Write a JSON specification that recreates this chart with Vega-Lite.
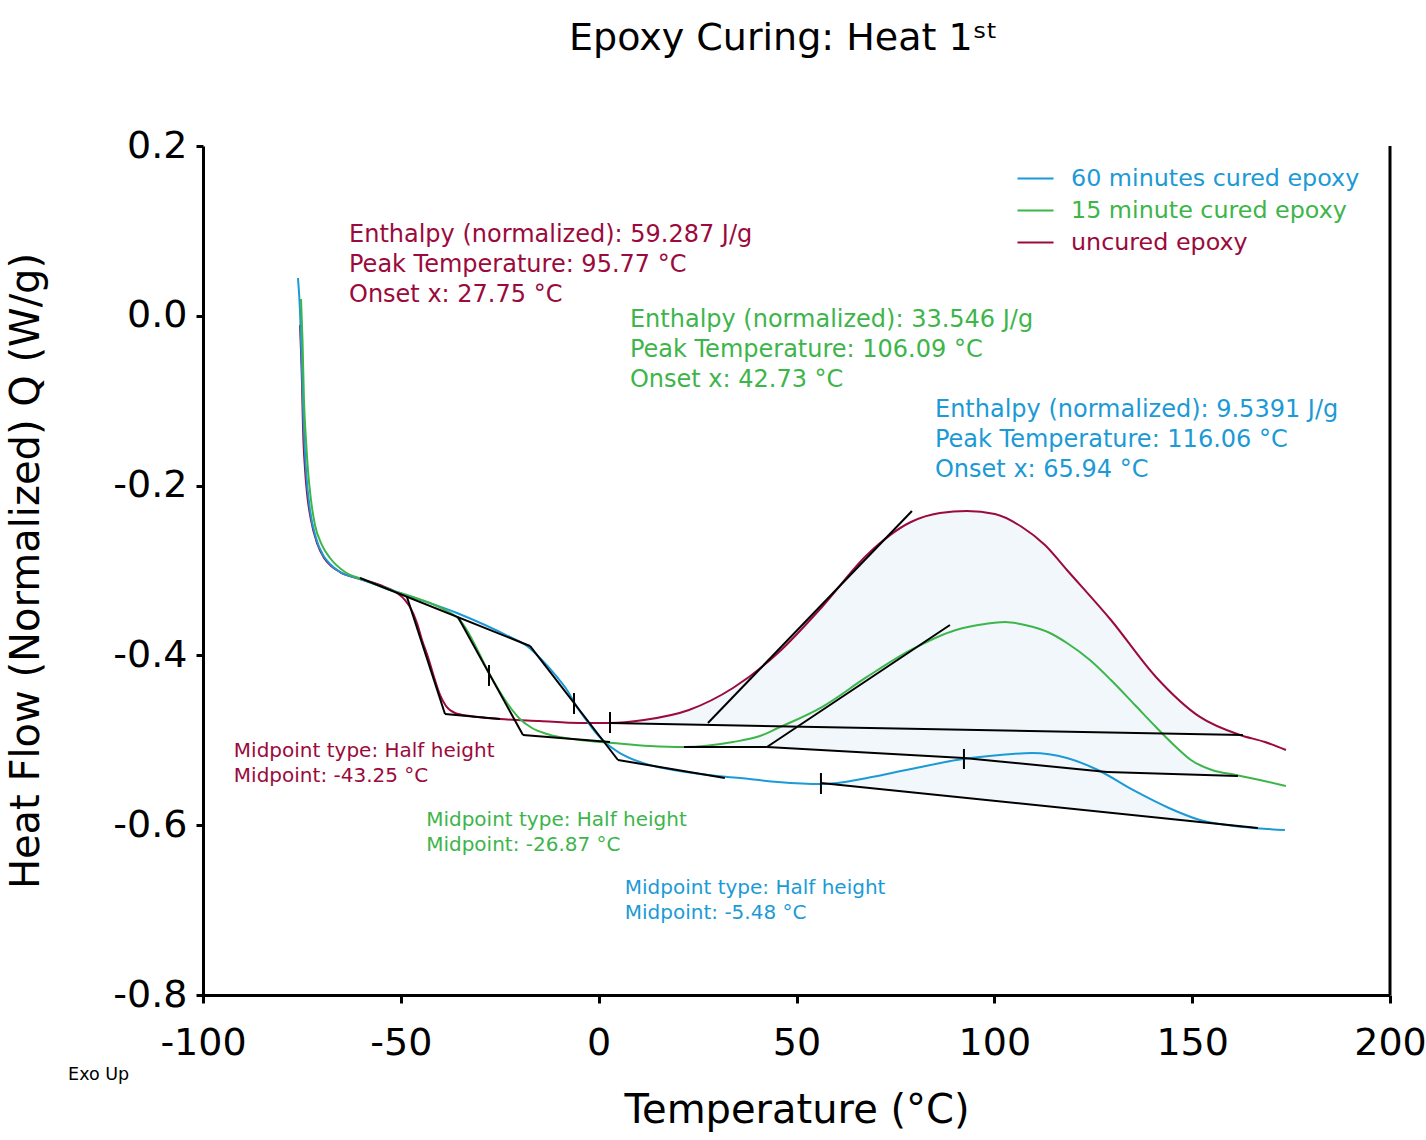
{
  "$schema": "https://vega.github.io/schema/vega-lite/v6.json",
  "description": "Epoxy curing DSC heat flow curves, first heat",
  "width": 1187,
  "height": 849,
  "autosize": "none",
  "padding": {"left": 203, "top": 146, "right": 36, "bottom": 145},
  "background": "white",
  "config": {
    "font": "DejaVu Sans",
    "view": {"stroke": null},
    "axis": {
      "grid": false,
      "domainColor": "black",
      "domainWidth": 3,
      "tickColor": "black",
      "tickWidth": 3,
      "labelColor": "black",
      "titleColor": "black",
      "labelFontSize": 38,
      "titleFontSize": 40,
      "titleFontWeight": "normal",
      "labelOverlap": false,
      "labelFlush": false
    }
  },
  "title": {
    "text": "Epoxy Curing: Heat 1ˢᵗ",
    "fontSize": 38,
    "fontWeight": "normal",
    "color": "black",
    "baseline": "alphabetic",
    "offset": 39,
    "dx": -13
  },
  "datasets": {
    "curves": [
      {"s": "uncured epoxy", "T": -75.49, "V": -0.0108},
      {"s": "uncured epoxy", "T": -75.0, "V": -0.0756},
      {"s": "uncured epoxy", "T": -74.73, "V": -0.131},
      {"s": "uncured epoxy", "T": -74.2, "V": -0.1816},
      {"s": "uncured epoxy", "T": -73.72, "V": -0.2087},
      {"s": "uncured epoxy", "T": -72.7, "V": -0.2405},
      {"s": "uncured epoxy", "T": -71.19, "V": -0.2676},
      {"s": "uncured epoxy", "T": -69.4, "V": -0.2853},
      {"s": "uncured epoxy", "T": -67.9, "V": -0.2935},
      {"s": "uncured epoxy", "T": -65.38, "V": -0.3018},
      {"s": "uncured epoxy", "T": -60.32, "V": -0.31},
      {"s": "uncured epoxy", "T": -55.27, "V": -0.3171},
      {"s": "uncured epoxy", "T": -50.97, "V": -0.3265},
      {"s": "uncured epoxy", "T": -48.95, "V": -0.3348},
      {"s": "uncured epoxy", "T": -47.69, "V": -0.343},
      {"s": "uncured epoxy", "T": -45.92, "V": -0.3618},
      {"s": "uncured epoxy", "T": -44.65, "V": -0.3819},
      {"s": "uncured epoxy", "T": -43.14, "V": -0.4019},
      {"s": "uncured epoxy", "T": -41.62, "V": -0.4254},
      {"s": "uncured epoxy", "T": -40.1, "V": -0.4466},
      {"s": "uncured epoxy", "T": -38.59, "V": -0.4596},
      {"s": "uncured epoxy", "T": -36.31, "V": -0.4678},
      {"s": "uncured epoxy", "T": -32.52, "V": -0.4714},
      {"s": "uncured epoxy", "T": -24.94, "V": -0.4749},
      {"s": "uncured epoxy", "T": -14.83, "V": -0.4773},
      {"s": "uncured epoxy", "T": -4.72, "V": -0.4796},
      {"s": "uncured epoxy", "T": 2.86, "V": -0.4796},
      {"s": "uncured epoxy", "T": 11.45, "V": -0.4761},
      {"s": "uncured epoxy", "T": 22.82, "V": -0.4643},
      {"s": "uncured epoxy", "T": 33.94, "V": -0.4384},
      {"s": "uncured epoxy", "T": 45.31, "V": -0.3972},
      {"s": "uncured epoxy", "T": 56.43, "V": -0.343},
      {"s": "uncured epoxy", "T": 67.8, "V": -0.2817},
      {"s": "uncured epoxy", "T": 78.92, "V": -0.2429},
      {"s": "uncured epoxy", "T": 86.25, "V": -0.2323},
      {"s": "uncured epoxy", "T": 93.07, "V": -0.2299},
      {"s": "uncured epoxy", "T": 100.15, "V": -0.2335},
      {"s": "uncured epoxy", "T": 106.98, "V": -0.2488},
      {"s": "uncured epoxy", "T": 112.79, "V": -0.27},
      {"s": "uncured epoxy", "T": 118.35, "V": -0.2994},
      {"s": "uncured epoxy", "T": 129.47, "V": -0.3583},
      {"s": "uncured epoxy", "T": 140.84, "V": -0.4254},
      {"s": "uncured epoxy", "T": 151.96, "V": -0.4725},
      {"s": "uncured epoxy", "T": 162.07, "V": -0.4937},
      {"s": "uncured epoxy", "T": 168.4, "V": -0.502},
      {"s": "uncured epoxy", "T": 173.7, "V": -0.5114},

      {"s": "60 minutes cured epoxy", "T": -75.99, "V": 0.0445},
      {"s": "60 minutes cured epoxy", "T": -75.49, "V": 0.0068},
      {"s": "60 minutes cured epoxy", "T": -74.98, "V": -0.0638},
      {"s": "60 minutes cured epoxy", "T": -74.6, "V": -0.1227},
      {"s": "60 minutes cured epoxy", "T": -73.97, "V": -0.1816},
      {"s": "60 minutes cured epoxy", "T": -72.96, "V": -0.2287},
      {"s": "60 minutes cured epoxy", "T": -71.44, "V": -0.2617},
      {"s": "60 minutes cured epoxy", "T": -69.67, "V": -0.2817},
      {"s": "60 minutes cured epoxy", "T": -67.9, "V": -0.2923},
      {"s": "60 minutes cured epoxy", "T": -65.38, "V": -0.3018},
      {"s": "60 minutes cured epoxy", "T": -60.32, "V": -0.31},
      {"s": "60 minutes cured epoxy", "T": -50.97, "V": -0.3253},
      {"s": "60 minutes cured epoxy", "T": -35.81, "V": -0.35},
      {"s": "60 minutes cured epoxy", "T": -22.42, "V": -0.3783},
      {"s": "60 minutes cured epoxy", "T": -18.12, "V": -0.3889},
      {"s": "60 minutes cured epoxy", "T": -14.83, "V": -0.403},
      {"s": "60 minutes cured epoxy", "T": -10.54, "V": -0.4254},
      {"s": "60 minutes cured epoxy", "T": -8.01, "V": -0.4407},
      {"s": "60 minutes cured epoxy", "T": -5.48, "V": -0.4608},
      {"s": "60 minutes cured epoxy", "T": -2.96, "V": -0.4772},
      {"s": "60 minutes cured epoxy", "T": -0.43, "V": -0.4926},
      {"s": "60 minutes cured epoxy", "T": 2.1, "V": -0.5044},
      {"s": "60 minutes cured epoxy", "T": 5.38, "V": -0.515},
      {"s": "60 minutes cured epoxy", "T": 10.44, "V": -0.5256},
      {"s": "60 minutes cured epoxy", "T": 16.25, "V": -0.5327},
      {"s": "60 minutes cured epoxy", "T": 25.6, "V": -0.5397},
      {"s": "60 minutes cured epoxy", "T": 35.71, "V": -0.5444},
      {"s": "60 minutes cured epoxy", "T": 45.31, "V": -0.5491},
      {"s": "60 minutes cured epoxy", "T": 56.18, "V": -0.5515},
      {"s": "60 minutes cured epoxy", "T": 62.24, "V": -0.549},
      {"s": "60 minutes cured epoxy", "T": 67.8, "V": -0.5444},
      {"s": "60 minutes cured epoxy", "T": 78.92, "V": -0.5338},
      {"s": "60 minutes cured epoxy", "T": 92.07, "V": -0.522},
      {"s": "60 minutes cured epoxy", "T": 101.42, "V": -0.5173},
      {"s": "60 minutes cured epoxy", "T": 109.5, "V": -0.5149},
      {"s": "60 minutes cured epoxy", "T": 118.35, "V": -0.5208},
      {"s": "60 minutes cured epoxy", "T": 126.18, "V": -0.535},
      {"s": "60 minutes cured epoxy", "T": 135.03, "V": -0.5585},
      {"s": "60 minutes cured epoxy", "T": 144.12, "V": -0.5797},
      {"s": "60 minutes cured epoxy", "T": 151.96, "V": -0.5939},
      {"s": "60 minutes cured epoxy", "T": 163.08, "V": -0.6021},
      {"s": "60 minutes cured epoxy", "T": 173.44, "V": -0.6057},

      {"s": "15 minute cured epoxy", "T": -75.23, "V": 0.0198},
      {"s": "15 minute cured epoxy", "T": -74.85, "V": -0.0285},
      {"s": "15 minute cured epoxy", "T": -74.48, "V": -0.0992},
      {"s": "15 minute cured epoxy", "T": -73.97, "V": -0.1463},
      {"s": "15 minute cured epoxy", "T": -73.47, "V": -0.1816},
      {"s": "15 minute cured epoxy", "T": -72.71, "V": -0.2169},
      {"s": "15 minute cured epoxy", "T": -71.7, "V": -0.2464},
      {"s": "15 minute cured epoxy", "T": -69.93, "V": -0.27},
      {"s": "15 minute cured epoxy", "T": -67.9, "V": -0.2853},
      {"s": "15 minute cured epoxy", "T": -64.11, "V": -0.3018},
      {"s": "15 minute cured epoxy", "T": -59.06, "V": -0.3112},
      {"s": "15 minute cured epoxy", "T": -52.74, "V": -0.323},
      {"s": "15 minute cured epoxy", "T": -47.69, "V": -0.33},
      {"s": "15 minute cured epoxy", "T": -42.63, "V": -0.3383},
      {"s": "15 minute cured epoxy", "T": -38.33, "V": -0.3477},
      {"s": "15 minute cured epoxy", "T": -35.56, "V": -0.356},
      {"s": "15 minute cured epoxy", "T": -33.03, "V": -0.3724},
      {"s": "15 minute cured epoxy", "T": -30.5, "V": -0.3948},
      {"s": "15 minute cured epoxy", "T": -27.72, "V": -0.4207},
      {"s": "15 minute cured epoxy", "T": -24.94, "V": -0.4431},
      {"s": "15 minute cured epoxy", "T": -22.42, "V": -0.4608},
      {"s": "15 minute cured epoxy", "T": -19.89, "V": -0.4749},
      {"s": "15 minute cured epoxy", "T": -16.86, "V": -0.4855},
      {"s": "15 minute cured epoxy", "T": -13.07, "V": -0.4926},
      {"s": "15 minute cured epoxy", "T": -4.72, "V": -0.4996},
      {"s": "15 minute cured epoxy", "T": 3.62, "V": -0.5032},
      {"s": "15 minute cured epoxy", "T": 12.97, "V": -0.5067},
      {"s": "15 minute cured epoxy", "T": 21.56, "V": -0.5079},
      {"s": "15 minute cured epoxy", "T": 33.94, "V": -0.502},
      {"s": "15 minute cured epoxy", "T": 40.76, "V": -0.495},
      {"s": "15 minute cured epoxy", "T": 45.31, "V": -0.4855},
      {"s": "15 minute cured epoxy", "T": 56.43, "V": -0.4608},
      {"s": "15 minute cured epoxy", "T": 67.8, "V": -0.4254},
      {"s": "15 minute cured epoxy", "T": 78.92, "V": -0.3936},
      {"s": "15 minute cured epoxy", "T": 90.3, "V": -0.37},
      {"s": "15 minute cured epoxy", "T": 97.63, "V": -0.363},
      {"s": "15 minute cured epoxy", "T": 102.68, "V": -0.3607},
      {"s": "15 minute cured epoxy", "T": 107.73, "V": -0.3642},
      {"s": "15 minute cured epoxy", "T": 114.05, "V": -0.3736},
      {"s": "15 minute cured epoxy", "T": 118.35, "V": -0.3854},
      {"s": "15 minute cured epoxy", "T": 124.16, "V": -0.4054},
      {"s": "15 minute cured epoxy", "T": 129.47, "V": -0.429},
      {"s": "15 minute cured epoxy", "T": 135.53, "V": -0.4584},
      {"s": "15 minute cured epoxy", "T": 140.84, "V": -0.4843},
      {"s": "15 minute cured epoxy", "T": 145.64, "V": -0.5067},
      {"s": "15 minute cured epoxy", "T": 149.68, "V": -0.5232},
      {"s": "15 minute cured epoxy", "T": 155.0, "V": -0.535},
      {"s": "15 minute cured epoxy", "T": 161.06, "V": -0.5409},
      {"s": "15 minute cured epoxy", "T": 167.12, "V": -0.5468},
      {"s": "15 minute cured epoxy", "T": 173.69, "V": -0.5538}
    ],
    "fills": [
      {"s": "uncured epoxy", "T": 2.86, "V": -0.4796, "V2": -0.4796},
      {"s": "uncured epoxy", "T": 11.45, "V": -0.4761, "V2": -0.4804},
      {"s": "uncured epoxy", "T": 22.82, "V": -0.4643, "V2": -0.4814},
      {"s": "uncured epoxy", "T": 33.94, "V": -0.4384, "V2": -0.4824},
      {"s": "uncured epoxy", "T": 45.31, "V": -0.3972, "V2": -0.4834},
      {"s": "uncured epoxy", "T": 56.43, "V": -0.343, "V2": -0.4844},
      {"s": "uncured epoxy", "T": 67.8, "V": -0.2817, "V2": -0.4854},
      {"s": "uncured epoxy", "T": 78.92, "V": -0.2429, "V2": -0.4864},
      {"s": "uncured epoxy", "T": 86.25, "V": -0.2323, "V2": -0.487},
      {"s": "uncured epoxy", "T": 93.07, "V": -0.2299, "V2": -0.4876},
      {"s": "uncured epoxy", "T": 100.15, "V": -0.2335, "V2": -0.4882},
      {"s": "uncured epoxy", "T": 106.98, "V": -0.2488, "V2": -0.4888},
      {"s": "uncured epoxy", "T": 112.79, "V": -0.27, "V2": -0.4893},
      {"s": "uncured epoxy", "T": 118.35, "V": -0.2994, "V2": -0.4898},
      {"s": "uncured epoxy", "T": 129.47, "V": -0.3583, "V2": -0.4908},
      {"s": "uncured epoxy", "T": 140.84, "V": -0.4254, "V2": -0.4918},
      {"s": "uncured epoxy", "T": 151.96, "V": -0.4725, "V2": -0.4928},
      {"s": "uncured epoxy", "T": 162.07, "V": -0.4937, "V2": -0.4937},

      {"s": "15 minute cured epoxy", "T": 21.56, "V": -0.5079, "V2": -0.5079},
      {"s": "15 minute cured epoxy", "T": 33.94, "V": -0.502, "V2": -0.5079},
      {"s": "15 minute cured epoxy", "T": 40.76, "V": -0.495, "V2": -0.5079},
      {"s": "15 minute cured epoxy", "T": 45.31, "V": -0.4855, "V2": -0.5086},
      {"s": "15 minute cured epoxy", "T": 56.43, "V": -0.4608, "V2": -0.5115},
      {"s": "15 minute cured epoxy", "T": 67.8, "V": -0.4254, "V2": -0.5145},
      {"s": "15 minute cured epoxy", "T": 78.92, "V": -0.3936, "V2": -0.5173},
      {"s": "15 minute cured epoxy", "T": 90.3, "V": -0.37, "V2": -0.5203},
      {"s": "15 minute cured epoxy", "T": 97.63, "V": -0.363, "V2": -0.5232},
      {"s": "15 minute cured epoxy", "T": 102.68, "V": -0.3607, "V2": -0.5255},
      {"s": "15 minute cured epoxy", "T": 107.73, "V": -0.3642, "V2": -0.5278},
      {"s": "15 minute cured epoxy", "T": 114.05, "V": -0.3736, "V2": -0.5307},
      {"s": "15 minute cured epoxy", "T": 118.35, "V": -0.3854, "V2": -0.5327},
      {"s": "15 minute cured epoxy", "T": 124.16, "V": -0.4054, "V2": -0.5353},
      {"s": "15 minute cured epoxy", "T": 129.47, "V": -0.429, "V2": -0.5374},
      {"s": "15 minute cured epoxy", "T": 135.53, "V": -0.4584, "V2": -0.5383},
      {"s": "15 minute cured epoxy", "T": 140.84, "V": -0.4843, "V2": -0.5391},
      {"s": "15 minute cured epoxy", "T": 145.64, "V": -0.5067, "V2": -0.5398},
      {"s": "15 minute cured epoxy", "T": 149.68, "V": -0.5232, "V2": -0.5403},
      {"s": "15 minute cured epoxy", "T": 155.0, "V": -0.535, "V2": -0.5411},
      {"s": "15 minute cured epoxy", "T": 161.06, "V": -0.5412, "V2": -0.5418},

      {"s": "60 minutes cured epoxy", "T": 56.18, "V": -0.5509, "V2": -0.5509},
      {"s": "60 minutes cured epoxy", "T": 62.24, "V": -0.549, "V2": -0.5532},
      {"s": "60 minutes cured epoxy", "T": 67.8, "V": -0.5444, "V2": -0.5559},
      {"s": "60 minutes cured epoxy", "T": 78.92, "V": -0.5338, "V2": -0.5612},
      {"s": "60 minutes cured epoxy", "T": 92.07, "V": -0.522, "V2": -0.5675},
      {"s": "60 minutes cured epoxy", "T": 101.42, "V": -0.5173, "V2": -0.572},
      {"s": "60 minutes cured epoxy", "T": 109.5, "V": -0.5149, "V2": -0.5759},
      {"s": "60 minutes cured epoxy", "T": 118.35, "V": -0.5208, "V2": -0.5801},
      {"s": "60 minutes cured epoxy", "T": 126.18, "V": -0.535, "V2": -0.5839},
      {"s": "60 minutes cured epoxy", "T": 135.03, "V": -0.5585, "V2": -0.5881},
      {"s": "60 minutes cured epoxy", "T": 144.12, "V": -0.5797, "V2": -0.5925},
      {"s": "60 minutes cured epoxy", "T": 151.96, "V": -0.5939, "V2": -0.5963},
      {"s": "60 minutes cured epoxy", "T": 163.08, "V": -0.6018, "V2": -0.6018}
    ],
    "segs": [
      {"T": -60.32, "V": -0.3088, "T2": -17.36, "V2": -0.3889},
      {"T": -17.36, "V": -0.3889, "T2": 4.88, "V2": -0.5232},
      {"T": 4.88, "V": -0.5232, "T2": 31.9, "V2": -0.5444},
      {"T": -48.45, "V": -0.3312, "T2": -38.84, "V2": -0.469},
      {"T": -38.84, "V": -0.469, "T2": -24.94, "V2": -0.4749},
      {"T": -35.56, "V": -0.3548, "T2": -19.13, "V2": -0.4938},
      {"T": -19.13, "V": -0.4938, "T2": 2.86, "V2": -0.502},
      {"T": 2.86, "V": -0.4796, "T2": 162.83, "V2": -0.4938},
      {"T": 27.62, "V": -0.4796, "T2": 79.18, "V2": -0.2299},
      {"T": 21.56, "V": -0.5079, "T2": 42.53, "V2": -0.5079},
      {"T": 42.53, "V": -0.5079, "T2": 92.32, "V2": -0.5208},
      {"T": 92.32, "V": -0.5208, "T2": 128.46, "V2": -0.5373},
      {"T": 128.46, "V": -0.5373, "T2": 161.56, "V2": -0.542},
      {"T": 42.53, "V": -0.5079, "T2": 88.78, "V2": -0.3642},
      {"T": 56.18, "V": -0.5503, "T2": 166.6, "V2": -0.6033},
      {"T": -27.72, "V": -0.4113, "T2": -27.72, "V2": -0.436},
      {"T": -6.24, "V": -0.4443, "T2": -6.24, "V2": -0.469},
      {"T": 2.86, "V": -0.4667, "T2": 2.86, "V2": -0.4914},
      {"T": 56.18, "V": -0.5385, "T2": 56.18, "V2": -0.5633},
      {"T": 92.32, "V": -0.5102, "T2": 92.32, "V2": -0.5338}
    ],
    "notes": [
      {"s": "uncured epoxy", "T": -63.1, "V": 0.0952, "txt": "Enthalpy (normalized): 59.287 J/g"},
      {"s": "uncured epoxy", "T": -63.1, "V": 0.0598, "txt": "Peak Temperature: 95.77 °C"},
      {"s": "uncured epoxy", "T": -63.1, "V": 0.0245, "txt": "Onset x: 27.75 °C"},
      {"s": "15 minute cured epoxy", "T": 7.9, "V": -0.005, "txt": "Enthalpy (normalized): 33.546 J/g"},
      {"s": "15 minute cured epoxy", "T": 7.9, "V": -0.0403, "txt": "Peak Temperature: 106.09 °C"},
      {"s": "15 minute cured epoxy", "T": 7.9, "V": -0.0756, "txt": "Onset x: 42.73 °C"},
      {"s": "60 minutes cured epoxy", "T": 85.0, "V": -0.111, "txt": "Enthalpy (normalized): 9.5391 J/g"},
      {"s": "60 minutes cured epoxy", "T": 85.0, "V": -0.1463, "txt": "Peak Temperature: 116.06 °C"},
      {"s": "60 minutes cured epoxy", "T": 85.0, "V": -0.1816, "txt": "Onset x: 65.94 °C"}
    ],
    "midnotes": [
      {"s": "uncured epoxy", "T": -92.2, "V": -0.5126, "txt": "Midpoint type: Half height"},
      {"s": "uncured epoxy", "T": -92.2, "V": -0.542, "txt": "Midpoint: -43.25 °C"},
      {"s": "15 minute cured epoxy", "T": -43.6, "V": -0.5939, "txt": "Midpoint type: Half height"},
      {"s": "15 minute cured epoxy", "T": -43.6, "V": -0.6233, "txt": "Midpoint: -26.87 °C"},
      {"s": "60 minutes cured epoxy", "T": 6.6, "V": -0.674, "txt": "Midpoint type: Half height"},
      {"s": "60 minutes cured epoxy", "T": 6.6, "V": -0.7034, "txt": "Midpoint: -5.48 °C"}
    ]
  },
  "encoding": {
    "x": {
      "field": "T",
      "type": "quantitative",
      "scale": {"domain": [-100, 200], "nice": false, "zero": false},
      "axis": {
        "title": "Temperature (°C)",
        "values": [-100, -50, 0, 50, 100, 150, 200],
        "labelExpr": "replace(datum.label, '−', '-')",
        "tickSize": 8,
        "labelPadding": 21,
        "titlePadding": 28
      }
    },
    "y": {
      "field": "V",
      "type": "quantitative",
      "scale": {"domain": [-0.8, 0.2], "nice": false, "zero": false},
      "axis": {
        "title": "Heat Flow (Normalized) Q (W/g)",
        "values": [-0.8, -0.6, -0.4, -0.2, 0, 0.2],
        "format": ".1f",
        "labelExpr": "replace(datum.label, '−', '-')",
        "tickSize": 7,
        "labelPadding": 9,
        "titlePadding": 66
      }
    }
  },
  "layer": [
    {
      "data": {"name": "fills"},
      "mark": {"type": "area", "color": "#f1f7fb", "interpolate": "monotone"},
      "encoding": {
        "y2": {"field": "V2"},
        "detail": {"field": "s"}
      }
    },
    {
      "data": {"name": "curves"},
      "mark": {"type": "line", "strokeWidth": 2, "interpolate": "monotone"},
      "encoding": {
        "color": {
          "field": "s",
          "type": "nominal",
          "scale": {
            "domain": ["60 minutes cured epoxy", "15 minute cured epoxy", "uncured epoxy"],
            "range": ["#1b9ad6", "#3db54a", "#9b0a3c"]
          },
          "legend": {
            "title": null,
            "orient": "none",
            "legendX": 813,
            "legendY": 13,
            "padding": 0,
            "symbolType": "stroke",
            "symbolSize": 1300,
            "symbolStrokeWidth": 2,
            "labelFontSize": 23.8,
            "labelOffset": 16,
            "rowPadding": 0,
            "labelLimit": 400,
            "encode": {
              "labels": {"update": {"fill": {"scale": "color", "field": "value"}}}
            }
          }
        }
      }
    },
    {
      "data": {"name": "segs"},
      "mark": {"type": "rule", "color": "black", "strokeWidth": 2},
      "encoding": {
        "x2": {"field": "T2"},
        "y2": {"field": "V2"}
      }
    },
    {
      "data": {"values": [{"T": 200, "V": 0.2, "V2": -0.8}]},
      "mark": {"type": "rule", "color": "black", "strokeWidth": 3},
      "encoding": {
        "y2": {"field": "V2"}
      }
    },
    {
      "data": {"name": "notes"},
      "mark": {"type": "text", "align": "left", "baseline": "middle", "fontSize": 24},
      "encoding": {
        "text": {"field": "txt"},
        "color": {"field": "s", "type": "nominal", "legend": null}
      }
    },
    {
      "data": {"name": "midnotes"},
      "mark": {"type": "text", "align": "left", "baseline": "middle", "fontSize": 20},
      "encoding": {
        "text": {"field": "txt"},
        "color": {"field": "s", "type": "nominal", "legend": null}
      }
    },
    {
      "data": {"values": [{"T": -134.1, "V": -0.894, "txt": "Exo Up"}]},
      "mark": {"type": "text", "align": "left", "baseline": "middle", "fontSize": 17.5, "color": "black"},
      "encoding": {
        "text": {"field": "txt"}
      }
    }
  ]
}
